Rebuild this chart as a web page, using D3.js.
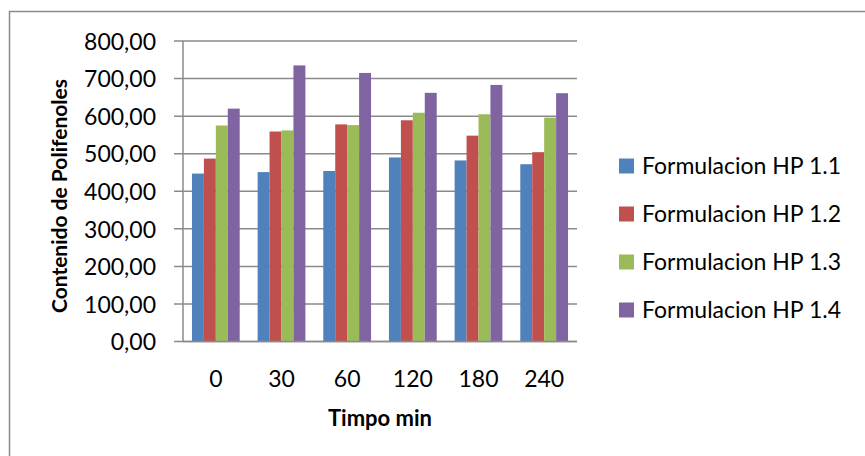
<!DOCTYPE html>
<html>
  <head>
    <meta charset="utf-8">
    <title></title>
    <style>
      body { margin: 0; background: #fff; }
      text { font-family: Lato, "Open Sans", sans-serif; fill: #000; }
    </style>
  </head>
  <body>
    <script src="https://cdn.jsdelivr.net/npm/d3@7"></script>
    <script>
      var categories = ['0', '30', '60', '120', '180', '240'];
      var seriesNames = ['Formulacion HP 1.1', 'Formulacion HP 1.2', 'Formulacion HP 1.3', 'Formulacion HP 1.4'];
      var hp11 = [447, 451, 454, 490, 482, 472];
      var hp12 = [487, 559, 578, 589, 548, 504];
      var hp13 = [575, 562, 576, 609, 605, 596];
      var hp14 = [620, 735, 715, 662, 683, 661];
      var yTicks = [0, 100, 200, 300, 400, 500, 600, 700, 800];
      var colors = ['#4F81BD', '#C0504D', '#9BBB59', '#8064A2'];

      var series = [hp11, hp12, hp13, hp14];

      var width = 865,
        height = 456,
        plot = { left: 183, top: 41, right: 577, bottom: 341.5 }; // area del grafico

      var svg = d3.select('body')
        .append('svg')
        .attr('width', width)
        .attr('height', height);

      // marco exterior (solo se ven lado izquierdo y superior)
      svg.append('rect')
        .attr('x', 9.5)
        .attr('y', 11.5)
        .attr('width', 900)
        .attr('height', 500)
        .attr('fill', 'none')
        .attr('stroke', '#8a8a8a')
        .attr('stroke-width', 1.5);

      var x = d3.scaleBand()
        .domain(categories)
        .range([plot.left, plot.right])
        .paddingInner(0)
        .paddingOuter(0);

      // ancho de barra: gap 150%
      var barW = x.bandwidth() / 5.5;
      var x1 = d3.scaleBand()
        .domain(d3.range(series.length))
        .range([barW * 0.75, barW * 4.75]);

      var y = d3.scaleLinear()
        .domain([0, 800])
        .range([plot.bottom, plot.top]);

      // lineas de cuadricula
      svg.append('g')
        .selectAll('line')
        .data(yTicks)
        .enter()
        .append('line')
        .attr('x1', plot.left - 9)
        .attr('x2', plot.right)
        .attr('y1', function(d) { return y(d); })
        .attr('y2', function(d) { return y(d); })
        .attr('stroke', '#8a8a8a')
        .attr('stroke-width', 1.5);

      // eje y
      var yAxis = d3.axisLeft(y)
        .tickValues(yTicks)
        .tickSize(0)
        .tickPadding(0)
        .tickFormat(function(d) { return d3.format('.2f')(d).replace('.', ','); });

      var gy = svg.append('g')
        .attr('transform', 'translate(' + 156 + ',0)')
        .call(yAxis);
      gy.select('.domain').remove();
      gy.selectAll('text')
        .attr('font-size', '23px')
        .attr('dy', '0.36em')
        .style('font-family', 'Lato, sans-serif')
        .attr('fill', '#000');

      svg.append('line')
        .attr('x1', plot.left)
        .attr('x2', plot.left)
        .attr('y1', plot.top)
        .attr('y2', plot.bottom)
        .attr('stroke', '#8a8a8a')
        .attr('stroke-width', 1.5);

      // barras
      var groups = svg.append('g')
        .selectAll('g')
        .data(series)
        .enter()
        .append('g')
        .attr('fill', function(d, i) { return colors[i]; });

      groups.each(function(vals, si) {
        d3.select(this).selectAll('rect')
          .data(vals)
          .enter()
          .append('rect')
          .attr('x', function(d, i) { return x(categories[i]) + x1(si); })
          .attr('y', function(d) { return y(d); })
          .attr('width', x1.bandwidth())
          .attr('height', function(d) { return y(0) - y(d); });
      });

      // eje x
      var xAxis = d3.axisBottom(x).tickSize(0).tickPadding(0);
      var gx = svg.append('g')
        .attr('transform', 'translate(0,' + plot.bottom + ')')
        .call(xAxis);
      gx.select('.domain').remove();
      gx.selectAll('text')
        .attr('font-size', '23px')
        .attr('y', 37)
        .attr('dy', '0.36em')
        .style('font-family', 'Lato, sans-serif')
        .attr('fill', '#000');

      svg.append('line')
        .attr('x1', plot.left)
        .attr('x2', plot.right)
        .attr('y1', plot.bottom)
        .attr('y2', plot.bottom)
        .attr('stroke', '#8a8a8a')
        .attr('stroke-width', 1.5);

      // titulos
      svg.append('text')
        .attr('x', 380)
        .attr('y', 418)
        .attr('dy', '0.36em')
        .attr('text-anchor', 'middle')
        .attr('font-size', '22px')
        .attr('font-weight', 'bold')
        .text('Timpo min');

      svg.append('text')
        .attr('transform', 'translate(59,196) rotate(-90)')
        .attr('dy', '0.36em')
        .attr('text-anchor', 'middle')
        .attr('font-size', '21px')
        .attr('font-weight', 'bold')
        .text('Contenido de Polifenoles');

      // leyenda
      var legend = svg.append('g')
        .selectAll('g')
        .data(seriesNames)
        .enter()
        .append('g')
        .attr('transform', function(d, i) { return 'translate(619,' + (166 + i * 48) + ')'; });

      legend.append('rect')
        .attr('x', 0)
        .attr('y', -7.5)
        .attr('width', 15)
        .attr('height', 15)
        .attr('fill', function(d, i) { return colors[i]; });

      legend.append('text')
        .attr('x', 23)
        .attr('dy', '0.36em')
        .attr('font-size', '23px')
        .text(function(d) { return d; });
    </script>
  </body>
</html>
